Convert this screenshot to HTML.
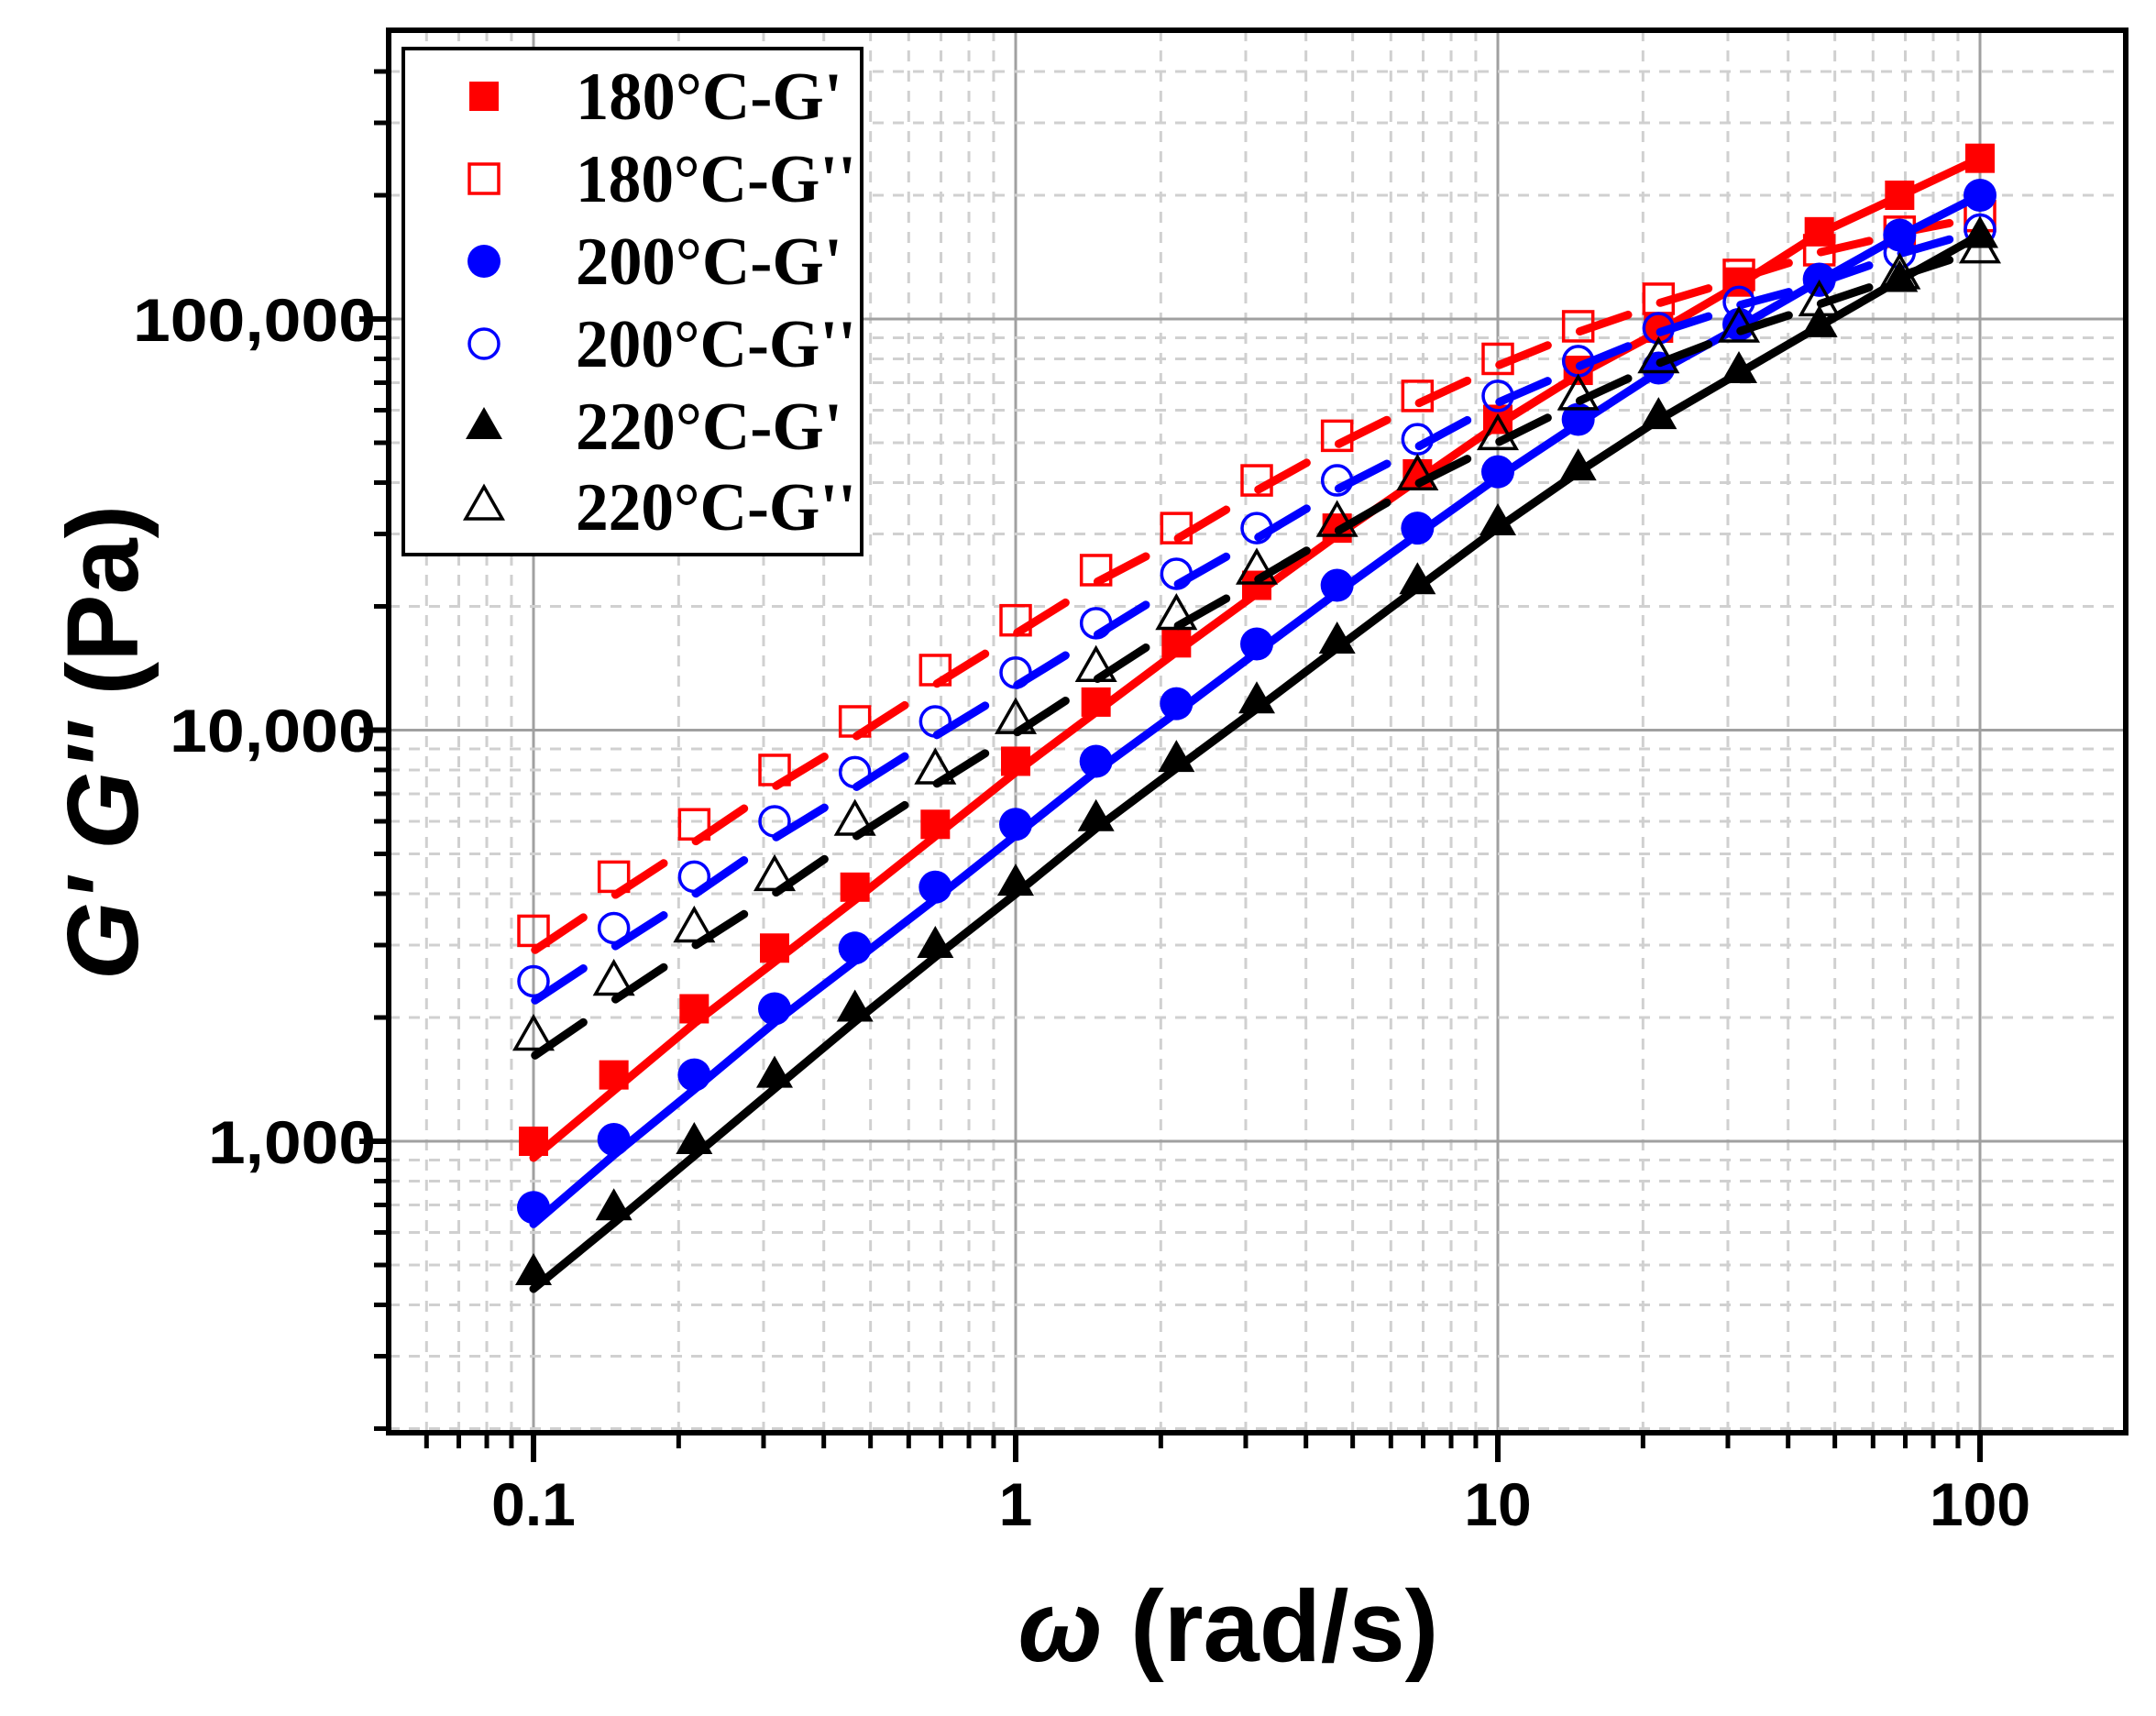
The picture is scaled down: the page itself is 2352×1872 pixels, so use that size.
<!DOCTYPE html>
<html><head><meta charset="utf-8"><style>
html,body{margin:0;padding:0;background:#fff}
svg{display:block}
</style></head><body>
<svg id="s" width="2352" height="1872" viewBox="0 0 2352 1872" xmlns="http://www.w3.org/2000/svg">
<g id="grid"></g>
<g id="data"></g>
<rect x="424" y="33" width="1895" height="1530" fill="none" stroke="#000" stroke-width="6"/>
<g id="ticks"></g>
<g font-family="Liberation Sans, Arial, sans-serif" font-weight="bold" font-size="66" fill="#000">
<text x="582" y="1664" text-anchor="middle">0.1</text>
<text x="1108" y="1664" text-anchor="middle">1</text>
<text x="1634" y="1664" text-anchor="middle">10</text>
<text x="2160" y="1664" text-anchor="middle">100</text>
<text x="410" y="372" text-anchor="end" textLength="265" lengthAdjust="spacingAndGlyphs">100,000</text>
<text x="410" y="820" text-anchor="end" textLength="225" lengthAdjust="spacingAndGlyphs">10,000</text>
<text x="410" y="1269" text-anchor="end" textLength="183" lengthAdjust="spacingAndGlyphs">1,000</text>
<text x="1340" y="1812" text-anchor="middle" font-size="110"><tspan font-style="italic">ω</tspan> (rad/s)</text>
<text transform="translate(150,810) rotate(-90)" text-anchor="middle" font-size="110"><tspan font-style="italic">G'  G''</tspan> (Pa)</text>
</g>
<rect x="440" y="53" width="500" height="552" fill="#fff" stroke="#000" stroke-width="4"/>
<g id="leg"></g>
<g font-family="Liberation Serif, Times New Roman, serif" font-weight="bold" font-size="74" fill="#000">
<text x="628" y="130" textLength="291" lengthAdjust="spacingAndGlyphs">180°C-G'</text>
<text x="628" y="220" textLength="306" lengthAdjust="spacingAndGlyphs">180°C-G''</text>
<text x="628" y="310" textLength="291" lengthAdjust="spacingAndGlyphs">200°C-G'</text>
<text x="628" y="400" textLength="306" lengthAdjust="spacingAndGlyphs">200°C-G''</text>
<text x="628" y="490" textLength="291" lengthAdjust="spacingAndGlyphs">220°C-G'</text>
<text x="628" y="578" textLength="306" lengthAdjust="spacingAndGlyphs">220°C-G''</text>
</g>
</svg>
<script>
const NS="http://www.w3.org/2000/svg";
function el(t,a,p){const e=document.createElementNS(NS,t);for(const k in a)e.setAttribute(k,a[k]);document.getElementById(p).appendChild(e);return e;}
const X=w=>582+526*Math.log10(w/0.1), Y=v=>348+448.5*(5-Math.log10(v));
for(let d=-2;d<=2;d++)for(let m=1;m<=9;m++){const w=Math.pow(10,d)*m;const x=X(w);if(x<=426||x>=2317)continue;
 if(m==1){el('line',{x1:x,y1:33,x2:x,y2:1563,stroke:'#a0a0a0','stroke-width':3},'grid');el('line',{x1:x,y1:1563,x2:x,y2:1595,stroke:'#000','stroke-width':6},'ticks');}
 else{el('line',{x1:x,y1:33,x2:x,y2:1563,stroke:'#d0d0d0','stroke-width':3,'stroke-dasharray':'12 10'},'grid');el('line',{x1:x,y1:1563,x2:x,y2:1580,stroke:'#000','stroke-width':5},'ticks');}}
for(let d=2;d<=6;d++)for(let m=1;m<=9;m++){const v=Math.pow(10,d)*m;const y=Y(v);if(y<=35||y>=1561)continue;
 if(m==1){el('line',{x1:424,y1:y,x2:2319,y2:y,stroke:'#a0a0a0','stroke-width':3},'grid');el('line',{x1:392,y1:y,x2:424,y2:y,stroke:'#000','stroke-width':6},'ticks');}
 else{el('line',{x1:424,y1:y,x2:2319,y2:y,stroke:'#d0d0d0','stroke-width':3,'stroke-dasharray':'12 10'},'grid');el('line',{x1:408,y1:y,x2:424,y2:y,stroke:'#000','stroke-width':5},'ticks');}}
const W=[];for(let k=0;k<19;k++)W.push(0.1*Math.pow(10,k/6));
const S=[
 {c:'#ff0000',m:'sq',f:1,d:[1000,1450,2100,2950,4150,5900,8400,11700,16300,22500,31000,42000,57000,75000,95000,123000,163000,200000,246000]},
 {c:'#ff0000',m:'sq',f:0,d:[3250,4400,5900,8000,10500,14000,18500,24500,31000,40500,52000,65000,80000,96000,112000,128000,147000,163000,178000]},
 {c:'#0000ff',m:'ci',f:1,d:[690,1010,1450,2100,2950,4150,5900,8400,11600,16200,22500,31000,42500,57000,76000,97000,125000,160000,200000]},
 {c:'#0000ff',m:'ci',f:0,d:[2450,3300,4400,6000,7900,10500,13800,18200,24000,31000,40500,51000,65000,79000,95000,110000,124000,145000,165000]},
 {c:'#000000',m:'tr',f:1,d:[480,690,1000,1450,2100,3000,4250,6100,8500,11800,16500,23000,32000,43500,58000,75000,97000,125000,160000]},
 {c:'#000000',m:'tr',f:0,d:[1800,2450,3300,4400,6000,8000,10600,14200,19000,24500,32000,41500,52000,65000,80000,95000,110000,128000,148000]}];
function mark(m,x,y,c,f,p){
 if(m=='sq')el('rect',{x:x-16,y:y-16,width:32,height:32,fill:f?c:'none',stroke:c,'stroke-width':f?0:3.5},p);
 else if(m=='ci')el('circle',{cx:x,cy:y,r:f?18:16,fill:f?c:'none',stroke:c,'stroke-width':f?0:3.5},p);
 else el('polygon',{points:`${x},${y-21} ${x+20},${y+14} ${x-20},${y+14}`,fill:f?c:'none',stroke:c,'stroke-width':f?0:3.5},p);}
function i0(p){return Math.min(1,Math.max(0,(p[0]-582)/1578));}
S.forEach(s=>{
 const pts=s.d.map((v,i)=>[X(W[i]),Y(v)]);
 if(s.f){el('polyline',{points:pts.map(p=>[p[0],p[1]+(18*(1-i0(p)))].join(',')).join(' '),fill:'none',stroke:s.c,'stroke-width':9,'stroke-linejoin':'round','stroke-linecap':'round'},'data');}
 else{for(let i=0;i<pts.length-1;i++){const a=pts[i],b=pts[i+1];const off=22*(1-i/18);
  const t0=0.02,t1=0.62;el('line',{x1:a[0]+(b[0]-a[0])*t0,y1:a[1]+(b[1]-a[1])*t0+off,x2:a[0]+(b[0]-a[0])*t1,y2:a[1]+(b[1]-a[1])*t1+off,stroke:s.c,'stroke-width':9,'stroke-linecap':'round'},'data');}}
 pts.forEach(p=>mark(s.m,p[0],p[1],s.c,s.f,'data'));
});
const LY=[105,195,285,375,465,552];
S.forEach((s,i)=>mark(s.m,528,LY[i],s.c,s.f,'leg'));
</script>
</body></html>
